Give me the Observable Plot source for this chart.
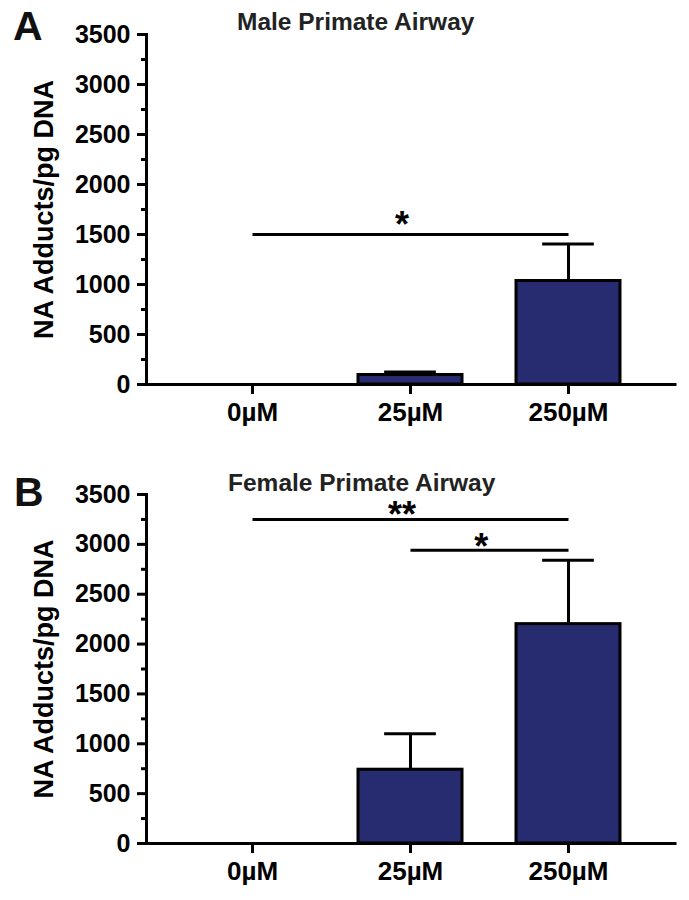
<!DOCTYPE html>
<html>
<head>
<meta charset="utf-8">
<script src="https://cdn.jsdelivr.net/npm/d3@7"></script>
<script src="https://cdn.jsdelivr.net/npm/@observablehq/plot@0.6"></script>
<style>
  body { margin: 0; background: #fff; }
  #root { position: relative; width: 689px; height: 900px; font-family: "Liberation Sans", Arial, sans-serif; color: #000; }
  .panel { position: absolute; left: 0; width: 689px; height: 450px; }
  .letter { position: absolute; font-weight: bold; font-size: 41px; line-height: 1; color: #111; }
  .title { position: absolute; font-weight: bold; font-size: 24.5px; line-height: 1; white-space: nowrap; color: #222; }
</style>
</head>
<body>
<div id="root"></div>
<script>
// ---- data ----
const categories = ["0µM", "25µM", "250µM"];
const maleMean = [0, 95, 1035];
const maleSem = [0, 30, 370];
const femaleMean = [0, 740, 2200];
const femaleSem = [0, 360, 640];
const yTicks = [0, 500, 1000, 1500, 2000, 2500, 3000, 3500];
const yMinorTicks = [250, 750, 1250, 1750, 2250, 2750, 3250];
const maleSigFrom = ["0µM"];
const maleSigTo = ["250µM"];
const maleSigY = [1500];
const maleSigLabel = ["*"];
const femaleSigFrom = ["0µM", "25µM"];
const femaleSigTo = ["250µM", "250µM"];
const femaleSigY = [3250, 2940];
const femaleSigLabel = ["**", "*"];
const yLabel = "NA Adducts/pg DNA";
const panelLetters = ["A", "B"];
const panelTitles = ["Male Primate Airway", "Female Primate Airway"];

// ---- drawing ----
const W = 689, H = 450, ML = 146, MR = 14, PAD = 0.34;
const step = (W - ML - MR) / (categories.length + PAD);
const bw = step * (1 - PAD);
const font = "'Liberation Sans', Arial, sans-serif";

function makePanel(mean, sem, sFrom, sTo, sY, sLabel, mt, mb, starDy) {
  const rows = categories.map((c, i) => ({cat: c, mean: mean[i], hi: mean[i] + sem[i], sem: sem[i]}));
  const err = rows.filter(d => d.sem > 0);
  const sig = sFrom.map((f, i) => ({from: f, to: sTo[i], y: sY[i], label: sLabel[i]}));
  const starMarks = sig.map((s, i) => {
    const span = categories.indexOf(s.to) - categories.indexOf(s.from);
    return Plot.text([s], {
      x: "to", y: "y", text: "label",
      dx: -span * step / 2 - 8, dy: starDy[i],
      lineAnchor: "bottom", fontSize: 36, fontWeight: "bold", fontFamily: font,
      letterSpacing: 2
    });
  });
  return Plot.plot({
    width: W, height: H,
    marginLeft: ML, marginRight: MR, marginTop: mt, marginBottom: mb,
    style: {fontFamily: font, fontSize: "25px", fontWeight: "bold", color: "#000", background: "transparent", overflow: "visible"},
    x: {domain: categories, padding: PAD, axis: null},
    y: {domain: [0, 3500], axis: null},
    marks: [
      Plot.barY(rows, {x: "cat", y: "mean", fill: "#272b6f", stroke: "#000", strokeWidth: 3}),
      Plot.ruleX(err, {x: "cat", y1: "mean", y2: "hi", stroke: "#000", strokeWidth: 3}),
      Plot.tickY(err, {x: "cat", y: "hi", stroke: "#000", strokeWidth: 3, inset: bw / 4}),
      Plot.link(sig, {x1: "from", x2: "to", y1: "y", y2: "y", stroke: "#000", strokeWidth: 3}),
      ...starMarks,
      Plot.axisY({ticks: yMinorTicks, tickSize: 5, strokeWidth: 3, tickFormat: () => "", label: null}),
      Plot.axisY({ticks: yTicks, tickSize: 9, tickPadding: 7, strokeWidth: 3, tickFormat: d3.format("d"), label: null, fontSize: 25, fontWeight: "bold"}),
      Plot.axisX({ticks: categories, tickSize: 10, tickPadding: 8, strokeWidth: 3, label: null, fontSize: 26, fontWeight: "bold"}),
      Plot.ruleY([0], {stroke: "#000", strokeWidth: 3, strokeLinecap: "square"}),
      Plot.frame({anchor: "left", stroke: "#000", strokeWidth: 3, strokeLinecap: "square"}),
      Plot.text([yLabel], {frameAnchor: "left", textAnchor: "middle", lineAnchor: "middle", rotate: -90, dx: -102, fontSize: 27, fontWeight: "bold", fontFamily: font})
    ]
  });
}

const root = document.getElementById("root");
const specs = [
  {top: 0, mean: maleMean, sem: maleSem, f: maleSigFrom, t: maleSigTo, y: maleSigY, l: maleSigLabel, mt: 34, mb: 66, dy: [2],
   letter: {left: 13, top: 6}, title: {left: 237, top: 10}},
  {top: 450, mean: femaleMean, sem: femaleSem, f: femaleSigFrom, t: femaleSigTo, y: femaleSigY, l: femaleSigLabel, mt: 44, mb: 57, dy: [8, 9],
   letter: {left: 14, top: 472}, title: {left: 228, top: 471}}
];
specs.forEach((s, i) => {
  const div = document.createElement("div");
  div.className = "panel";
  div.style.top = s.top + "px";
  div.appendChild(makePanel(s.mean, s.sem, s.f, s.t, s.y, s.l, s.mt, s.mb, s.dy));
  root.appendChild(div);
  const letter = document.createElement("div");
  letter.className = "letter";
  letter.style.left = s.letter.left + "px";
  letter.style.top = s.letter.top + "px";
  letter.textContent = panelLetters[i];
  root.appendChild(letter);
  const title = document.createElement("div");
  title.className = "title";
  title.style.left = s.title.left + "px";
  title.style.top = s.title.top + "px";
  title.textContent = panelTitles[i];
  root.appendChild(title);
});
</script>
</body>
</html>
